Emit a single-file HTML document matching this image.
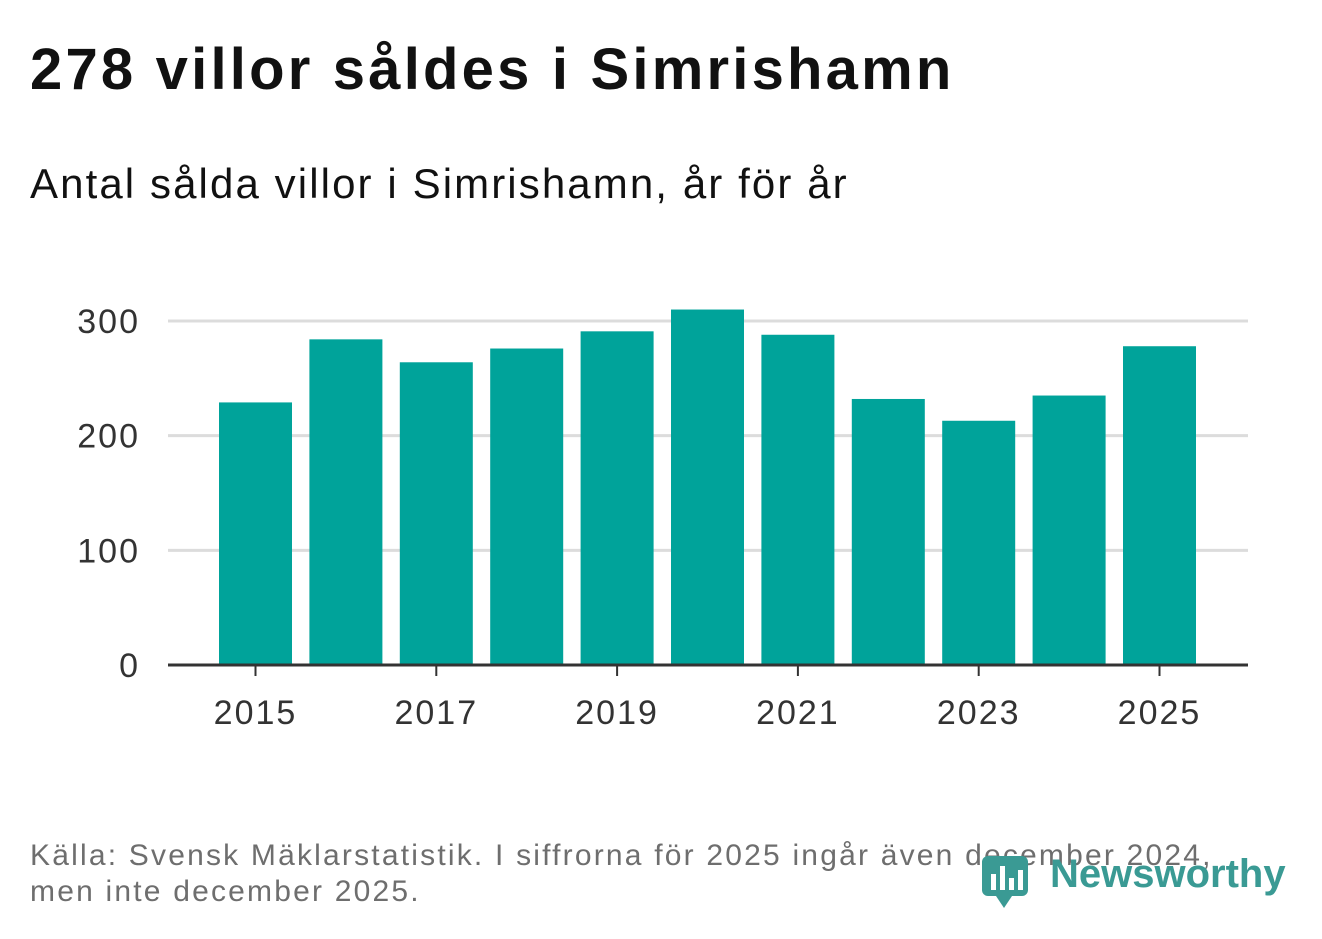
<!DOCTYPE html>
<html><head><meta charset="utf-8"><style>
body{margin:0;background:#fff;font-family:"Liberation Sans",sans-serif;}
#wrap{position:relative;width:1322px;height:939px;overflow:hidden;}
.t{position:absolute;white-space:nowrap;}
</style></head><body>
<div id="wrap">
<div class="t" style="left:30px;top:36px;font-size:58px;font-weight:bold;color:#111;letter-spacing:3.2px;">278 villor såldes i Simrishamn</div>
<div class="t" style="left:30px;top:160px;font-size:42px;color:#111;letter-spacing:2.1px;">Antal sålda villor i Simrishamn, år för år</div>
<svg id="chart" width="1322" height="800" style="position:absolute;left:0;top:0"></svg>
<div class="t" style="left:30px;top:838px;font-size:30px;color:#6e6e6e;line-height:36px;letter-spacing:2.2px;">Källa: Svensk Mäklarstatistik. I siffrorna för 2025 ingår även december 2024,<br>men inte december 2025.</div>
<div style="position:absolute;left:982px;top:852px;width:310px;height:58px;">
<svg width="50" height="58" style="position:absolute;left:0;top:0"><rect x="0" y="4" width="46" height="40" rx="6" fill="#3a9a94"/><polygon points="14,44 30,44 22,56" fill="#3a9a94"/><rect x="9" y="22" width="5" height="16" fill="#fff"/><rect x="18" y="14" width="5" height="24" fill="#fff"/><rect x="27" y="26" width="5" height="12" fill="#fff"/><rect x="36" y="18" width="5" height="20" fill="#fff"/></svg>
<div class="t" style="left:68px;top:0;font-size:40px;font-weight:bold;color:#3a9a94;">Newsworthy</div>
</div>
</div>
<script>
const years=[2015,2016,2017,2018,2019,2020,2021,2022,2023,2024,2025];
const sold=[229,284,264,276,291,310,288,232,213,235,278];
const yTicks=[0,100,200,300];
const xTickYears=[2015,2017,2019,2021,2023,2025];
const NS="http://www.w3.org/2000/svg";
const svg=document.getElementById('chart');
const y0=665,yPer=344/300;
const y=v=>y0-v*yPer;
const x=yr=>255.5+(yr-2015)*90.4;
function mk(t,a){const e=document.createElementNS(NS,t);for(const k in a)e.setAttribute(k,a[k]);svg.appendChild(e);return e;}
yTicks.forEach(v=>{
 if(v>0){const g=mk('line',{x1:168,x2:1248,y1:y(v),y2:y(v),stroke:'#dcdcdc','stroke-width':3});
 
 }
 const t=mk('text',{x:140,y:y(v)+12,'text-anchor':'end','font-size':34,fill:'#333','font-family':'Liberation Sans, sans-serif','letter-spacing':2});
 t.textContent=v;
 
 
});
years.forEach((yr,i)=>{
 const b=mk('rect',{x:x(yr)-36.5,width:73,y:y(sold[i]),height:y0-y(sold[i]),fill:'#00a39a'});
 
 
});
const ax=mk('line',{x1:168,x2:1248,y1:y0,y2:y0,stroke:'#333','stroke-width':3});


xTickYears.forEach(yr=>{
 const tk=mk('line',{x1:x(yr),x2:x(yr),y1:y0,y2:y0+11,stroke:'#333','stroke-width':2});
 
 
 const t=mk('text',{x:x(yr),y:724,'text-anchor':'middle','font-size':34,fill:'#333','font-family':'Liberation Sans, sans-serif','letter-spacing':2});
 t.textContent=yr;
 
 
});
</script>
</body></html>
